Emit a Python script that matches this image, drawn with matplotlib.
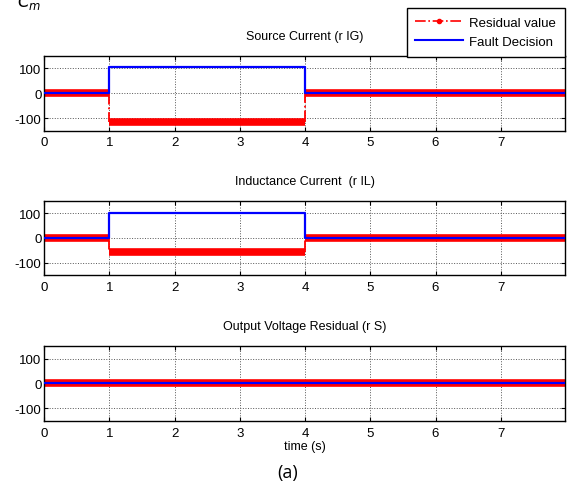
import matplotlib.pyplot as plt
from matplotlib.lines import Line2D

# ~~~~~~~~~~~~~~~~~~~~~~~~~~~~ Data ~~~~~~~~~~~~~~~~~~~~~~~~~~~~
titles = ['Source Current (r IG)', 'Inductance Current  (r IL)', 'Output Voltage Residual (r S)']
seg_start = [0, 1, 4]          # fault window edges (s)
seg_end = [1, 4, 8]
residual_levels = [[0, -115, 0], [0, -55, 0], [0, 0, 0]]
decision_levels = [[0, 104, 0], [0, 100, 0], [0, 0, 0]]
x_ticks = [0, 1, 2, 3, 4, 5, 6, 7]
y_ticks = [-100, 0, 100]
y_labels = ['-100', '0', '100']

plt.rcParams['font.family'] = ['Liberation Sans', 'DejaVu Sans']

fig = plt.figure(figsize=(5.67, 4.85), dpi=100)
boxes = [[0.078, 0.7285, 0.919, 0.154],
         [0.078, 0.431, 0.919, 0.1525],
         [0.078, 0.130, 0.919, 0.1545]]

for i, box in enumerate(boxes):
    ax = fig.add_axes(box)
    res = residual_levels[i]
    dec = decision_levels[i]
    # residual: dense markers look like a thick band, dash-dot jumps between segments
    for k in range(len(seg_start)):
        ax.plot([seg_start[k], seg_end[k]], [res[k], res[k]], color='red', lw=5.5,
                solid_capstyle='butt', zorder=2)
        if k > 0:
            ax.plot([seg_start[k], seg_start[k]], [res[k - 1], res[k]], color='red',
                    lw=1.3, ls='-.', zorder=2)
    # fault decision: step line
    tx, ty = [], []
    for k in range(len(seg_start)):
        tx += [seg_start[k], seg_end[k]]
        ty += [dec[k], dec[k]]
    ax.plot(tx, ty, color='blue', lw=1.6, zorder=3)

    ax.set_xlim(0, 7.99)
    ax.set_ylim(-150, 150)
    ax.set_xticks(x_ticks)
    ax.set_yticks(y_ticks)
    ax.set_yticklabels(y_labels)
    ax.tick_params(direction='in', top=True, right=True, labelsize=9.5, length=3)
    ax.tick_params(axis='x', pad=4)
    ax.tick_params(axis='y', pad=2)
    ax.grid(True, color='#555555', ls=':', lw=0.7)
    for s in ax.spines.values():
        s.set_linewidth(1.0)
    ax.set_title(titles[i], fontsize=9, pad=12)
    if i == 2:
        ax.set_xlabel('time (s)', fontsize=9, labelpad=1)

handles = [Line2D([], [], color='red', ls='-.', marker='.', markersize=6, lw=1.2),
           Line2D([], [], color='blue', lw=1.5)]
fig.legend(handles, ['Residual value', 'Fault Decision'], loc='upper right',
           bbox_to_anchor=(0.996, 0.982), borderaxespad=0, fontsize=9.5, frameon=True,
           fancybox=False, edgecolor='black', framealpha=1, handlelength=3.6,
           borderpad=0.65, labelspacing=0.55, handletextpad=0.5)

fig.text(0.508, 0.025, '(a)', ha='center', va='center', fontsize=13, family=['Open Sans', 'DejaVu Sans'])
fig.text(0.03, 0.996, r'$C_m$', ha='left', va='center', fontsize=12, color='black')

fig.savefig('out.png', dpi=100)
